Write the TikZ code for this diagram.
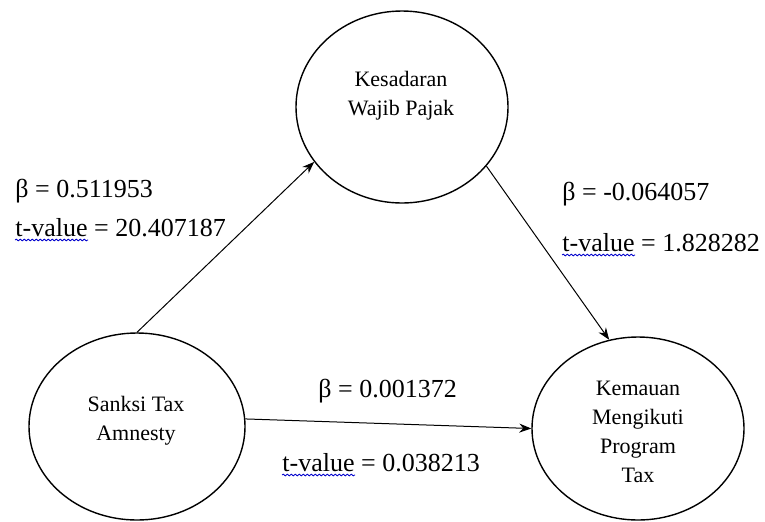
\documentclass[tikz,border=0pt]{standalone}
\usepackage{fontspec}
\setmainfont{Liberation Serif}
\usetikzlibrary{shapes.geometric,arrows.meta,decorations.pathmorphing}

\begin{document}
\begin{tikzpicture}[x=0.5pt,y=-0.5pt,
        var/.style={draw,ellipse,line width=0.7pt,inner sep=0pt},
        vtxt/.style={align=center,inner sep=0pt,font=\fontsize{11}{14.5}\selectfont},
        lbl/.style={anchor=base west,inner sep=0pt,font=\fontsize{13}{15}\selectfont},
        link/.style={-{Stealth[length=6pt,width=4.5pt]},line width=0.5pt},
        squig/.style={blue!80!black,line width=0.4pt,decorate,
            decoration={snake,amplitude=0.45pt,segment length=2pt}}]

        \useasboundingbox (0,0) rectangle (765,521);

        \node[var,minimum width=106pt,minimum height=96pt] (kwp) at (402,107) {};
        \node[var,minimum width=108pt,minimum height=93.5pt] (sta) at (137,426.5) {};
        \node[var,minimum width=106pt,minimum height=91.5pt] (kmp) at (638,428.5) {};

        \node[vtxt] (kwptxt) at (401,96) {Kesadaran\\Wajib Pajak};
        \node[vtxt] (statxt) at (136,421) {Sanksi Tax\\Amnesty};
        \node[vtxt] (kmptxt) at (638,432) {Kemauan\\Mengikuti\\Program\\Tax};

        \draw[link] (sta.90) -- (kwp.212);
        \draw[link] (kwp.-35) -- (kmp.108);
        \draw[link] (sta.4.5) -- (kmp.180);

        \node[lbl] (b1) at (15,197) {β = 0.511953};
        \node[lbl] (t1) at (15,236) {t-value = 20.407187};
        \node[lbl] (b2) at (562,200) {β = -0.064057};
        \node[lbl] (t2) at (562,251) {t-value = 1.828282};
        \node[lbl] (b3) at (318,397) {β = 0.001372};
        \node[lbl] (t3) at (282,471) {t-value = 0.038213};

        \draw[squig] ([yshift=-2pt]t1.base west) -- ++(73,0);
        \draw[squig] ([yshift=-2pt]t2.base west) -- ++(73,0);
        \draw[squig] ([yshift=-2pt]t3.base west) -- ++(73,0);

    \end{tikzpicture}
\end{document}
